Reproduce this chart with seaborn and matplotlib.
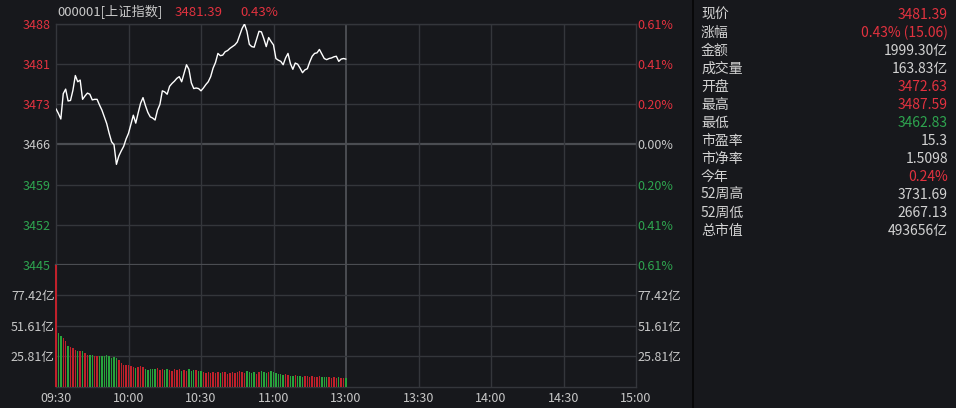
import numpy as np
import pandas as pd
import matplotlib
matplotlib.use("Agg")
import matplotlib.pyplot as plt
import seaborn as sns
from matplotlib.lines import Line2D

# ---------------- data ----------------
prev_close = 3466.33
day_high = 3487.59

prices = [
    3472.63, 3471.8, 3470.83, 3475.3, 3476.1, 3474.01, 3474.1, 3475.9, 3478.5, 3477.4,
    3477.7, 3474.3, 3474.9, 3475.4, 3475.2, 3474.2, 3474.3, 3474.3, 3473.3, 3472.4,
    3471.2, 3470.0, 3468.3, 3466.8, 3466.3, 3462.83, 3464.3, 3465.2, 3466.0, 3467.3,
    3468.3, 3469.9, 3471.5, 3470.1, 3471.9, 3473.6, 3474.6, 3473.2, 3472.0, 3471.2,
    3471.0, 3470.65, 3472.4, 3473.4, 3475.8, 3475.6, 3475.2, 3476.6, 3477.1, 3477.5,
    3478.0, 3478.3, 3477.4, 3478.9, 3480.4, 3479.6, 3477.2, 3476.2, 3476.3, 3476.2,
    3475.8, 3476.3, 3476.9, 3477.4, 3478.3, 3479.8, 3480.8, 3482.4, 3482.0, 3482.1,
    3482.7, 3482.9, 3483.3, 3483.6, 3483.9, 3484.4, 3485.6, 3486.8, 3487.59, 3486.3,
    3484.0, 3483.6, 3483.5, 3484.9, 3486.3, 3486.2, 3485.0, 3483.6, 3485.2, 3484.5,
    3483.9, 3481.5, 3481.2, 3481.0, 3480.4, 3481.6, 3482.4, 3480.6, 3479.6, 3480.7,
    3480.5, 3479.8, 3479.0, 3479.5, 3479.7, 3480.9, 3481.9, 3482.4, 3482.5, 3483.1,
    3482.3, 3481.5, 3481.3, 3481.5, 3481.6, 3481.8, 3481.9, 3481.0, 3481.4, 3481.5,
    3481.39,
]

volumes = [
    103.23, 45.7, 43.3, 41.4, 38.5, 34.8, 33.7, 32.8, 30.8, 29.9,
    29.9, 30.5, 28.5, 27.1, 26.5, 26.8, 26.2, 26.2, 26.2, 26.2,
    26.2, 26.8, 26.2, 24.3, 25.1, 24.3, 22.2, 20.0, 18.6, 18.6,
    18.0, 17.1, 16.2, 15.7, 16.2, 17.1, 16.2, 14.9, 14.3, 15.2,
    15.2, 14.5, 15.8, 14.0, 15.2, 13.6, 15.0, 14.2, 13.5, 14.8,
    13.9, 15.1, 13.2, 14.4, 13.0, 14.6, 12.8, 13.7, 14.1, 12.9,
    13.5, 12.4, 11.8, 12.6, 11.4, 12.2, 11.7, 12.5, 11.2, 11.9,
    12.3, 11.0, 11.8, 12.4, 11.3, 12.6, 13.2, 12.1, 11.5, 12.8,
    12.0, 11.4, 12.3, 11.0, 11.9, 13.0, 12.2, 11.5, 12.7, 13.1,
    12.4, 11.8, 10.6, 10.2, 9.8, 10.4, 9.6, 9.1, 8.9, 9.4,
    8.7, 8.9, 8.4, 9.2, 8.6, 8.1, 8.8, 8.3, 8.0, 8.5,
    7.9, 8.2, 7.7, 8.1, 7.5, 7.9, 7.4, 7.8, 7.2, 7.6,
    7.1,
]

price_labels = ["3488", "3481", "3473", "3466", "3459", "3452", "3445"]
pct_labels = ["0.61%", "0.41%", "0.20%", "0.00%", "0.20%", "0.41%", "0.61%"]
vol_ticks = [25.81, 51.61, 77.42]
vol_labels = ["25.81亿", "51.61亿", "77.42亿"]
vol_top = 103.23
time_labels = ["09:30", "10:00", "10:30", "11:00", "13:00", "13:30", "14:00", "14:30", "15:00"]

header_code = "000001[上证指数]"
header_price = "3481.39"
header_pct = "0.43%"

info_names = ["现价", "涨幅", "金额", "成交量", "开盘", "最高", "最低", "市盈率", "市净率", "今年", "52周高", "52周低", "总市值"]
info_values = ["3481.39", "0.43% (15.06)", "1999.30亿", "163.83亿", "3472.63", "3487.59", "3462.83",
               "15.3", "1.5098", "0.24%", "3731.69", "2667.13", "493656亿"]
info_tone = ["up", "up", "flat", "flat", "up", "up", "down", "flat", "flat", "up", "flat", "flat", "flat"]

# ---------------- style ----------------
BG = "#17181c"
GRID = "#34363b"
GRID2 = "#4b4d52"
TXT = "#c8c8c8"
RED = "#e2323f"
GREEN = "#2ea44f"
BAR_RED = "#c0212b"
BAR_GREEN = "#27a33c"

sns.set_style("dark")
plt.rcParams["font.family"] = ["Noto Sans CJK SC", "DejaVu Sans"]
plt.rcParams["axes.unicode_minus"] = False

W, H = 956, 408
fig = plt.figure(figsize=(W / 100, H / 100), dpi=100)
fig.patch.set_facecolor(BG)

def fx(px):
    return px / W

def fy(py):
    return 1 - py / H

L, R, T, MID, B = 56, 636, 24, 265, 386.5
ax_p = fig.add_axes([fx(L), fy(MID), fx(R) - fx(L), fy(T) - fy(MID)])
ax_v = fig.add_axes([fx(L), fy(B), fx(R) - fx(L), fy(MID) - fy(B)])

minutes = np.arange(len(prices))
df = pd.DataFrame({"minute": minutes, "price": prices, "volume": volumes})
dirs = ["up"] + ["up" if prices[i] >= prices[i - 1] else "down" for i in range(1, len(prices))]
df["dir"] = dirs

# price levels
dev = day_high - prev_close
levels = [prev_close + dev * k / 3 for k in (3, 2, 1, 0, -1, -2, -3)]
label_tone = ["up", "up", "up", "flat", "down", "down", "down"]
tone_color = {"up": RED, "down": GREEN, "flat": TXT}

for ax in (ax_p, ax_v):
    ax.set_facecolor(BG)
    ax.set_xlim(0, 240)
    for s in ax.spines.values():
        s.set_color(GRID)
        s.set_linewidth(1)

# grid lines price
for lv, tone in zip(levels, label_tone):
    if tone == "flat":
        ax_p.axhline(lv, color=GRID2, lw=1.6, zorder=1)
    else:
        ax_p.axhline(lv, color=GRID, lw=1.0, zorder=1)
xt = list(range(0, 241, 30))
for ax in (ax_p, ax_v):
    for x in xt[1:-1]:
        ax.axvline(x, color=GRID2 if x == 120 else GRID, lw=1.4 if x == 120 else 1.0, zorder=1)
for v in vol_ticks:
    ax_v.axhline(v, color=GRID, lw=1.0, zorder=1)

sns.lineplot(data=df, x="minute", y="price", ax=ax_p, color="white", lw=1.0, zorder=5)
ax_p.set_ylim(levels[-1], levels[0])
ax_p.set_xlim(0, 240)
ax_p.set_yticks(levels)
ax_p.set_yticklabels(price_labels, fontsize=9)
for t, tone in zip(ax_p.get_yticklabels(), label_tone):
    t.set_color(tone_color[tone])
ax_p.tick_params(axis="y", length=0, pad=4)
ax_p.set_xticks([])
ax_p.set_xlabel("")
ax_p.set_ylabel("")
ax_p.spines["bottom"].set_color(GRID2)
ax_p.spines["bottom"].set_linewidth(1.6)

axr = ax_p.twinx()
axr.set_ylim(levels[-1], levels[0])
axr.set_yticks(levels)
axr.set_yticklabels(pct_labels, fontsize=9)
for t, tone in zip(axr.get_yticklabels(), label_tone):
    t.set_color(tone_color[tone])
axr.tick_params(axis="y", length=0, pad=1)
for s in axr.spines.values():
    s.set_visible(False)
axr.grid(False)

# volume bars
sns.barplot(data=df, x="minute", y="volume", hue="dir",
            palette={"up": BAR_RED, "down": BAR_GREEN}, native_scale=True,
            dodge=False, width=0.6, errorbar=None, legend=False, saturation=1,
            linewidth=0, ax=ax_v, zorder=3)
for p in ax_v.patches:
    p.set_clip_on(False)
ax_v.set_xlim(0, 240)
ax_v.set_ylim(0, vol_top)
ax_v.set_yticks(vol_ticks)
ax_v.set_yticklabels(vol_labels, fontsize=9, color=TXT)
ax_v.tick_params(axis="y", length=0, pad=1)
ax_v.set_xticks(xt)
ax_v.set_xticklabels(time_labels, fontsize=9, color=TXT)
ax_v.tick_params(axis="x", length=0, pad=4)
ax_v.set_xlabel("")
ax_v.set_ylabel("")
ax_v.spines["top"].set_visible(False)
ax_v.grid(False)
ax_p.grid(False)

axvr = ax_v.twinx()
axvr.set_ylim(0, vol_top)
axvr.set_yticks(vol_ticks)
axvr.set_yticklabels(vol_labels, fontsize=9, color=TXT)
axvr.tick_params(axis="y", length=0, pad=1)
for s in axvr.spines.values():
    s.set_visible(False)
axvr.grid(False)

# header
fig.text(fx(57), fy(12), header_code, color=TXT, fontsize=9.5, va="center", ha="left")
fig.text(fx(175), fy(12), header_price, color=RED, fontsize=9.5, va="center", ha="left")
fig.text(fx(240), fy(12), header_pct, color=RED, fontsize=9.5, va="center", ha="left")

# right info panel
fig.add_artist(Line2D([fx(693), fx(693)], [0, 1], color="#050506", lw=1.2, transform=fig.transFigure))
for i, (n, v, tone) in enumerate(zip(info_names, info_values, info_tone)):
    yy = fy(15 + i * 17.98)
    fig.text(fx(701), yy, n, color="#d2d2d2", fontsize=10, va="center", ha="left")
    fig.text(fx(948), yy, v, color=tone_color[tone] if tone != "flat" else "#d2d2d2",
             fontsize=10, va="center", ha="right")

fig.savefig("out.png", dpi=100, facecolor=BG)
